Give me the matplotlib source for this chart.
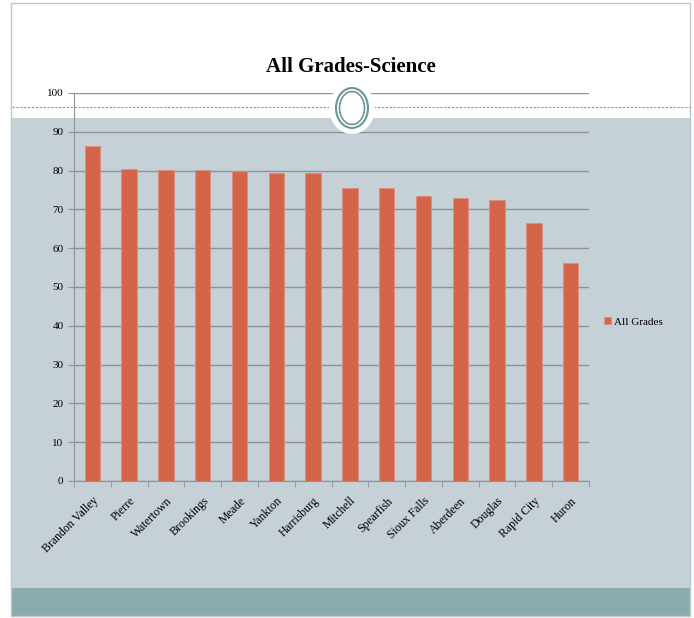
import matplotlib.pyplot as plt
from matplotlib.patches import Rectangle, Ellipse
from matplotlib.lines import Line2D

schools = ["Brandon Valley", "Pierre", "Watertown", "Brookings", "Meade", "Yankton",
           "Harrisburg", "Mitchell", "Spearfish", "Sioux Falls", "Aberdeen", "Douglas",
           "Rapid City", "Huron"]
all_grades = [86.4, 80.3, 80.2, 80.1, 79.9, 79.5, 79.4, 75.6, 75.5, 73.5, 72.9, 72.5, 66.6, 56.1]

W, H = 694, 618
plt.rcParams['font.family'] = ['Liberation Serif', 'DejaVu Serif']

fig = plt.figure(figsize=(W / 100, H / 100), dpi=100)
fig.patch.set_facecolor('white')

def fx(px):
    return px / W

def fy(py):
    return 1 - py / H

# slide background pieces
fig.add_artist(Rectangle((fx(12), fy(588)), fx(678), fy(118) - fy(588),
                         transform=fig.transFigure, facecolor='#C5D1D6', edgecolor='none', zorder=0))
fig.add_artist(Rectangle((fx(12), fy(616)), fx(678), fy(588) - fy(616),
                         transform=fig.transFigure, facecolor='#8AACAC', edgecolor='none', zorder=0))
fig.add_artist(Rectangle((fx(11), fy(616)), fx(679), fy(3) - fy(616),
                         transform=fig.transFigure, facecolor='none', edgecolor='#B8C8CC', lw=1, zorder=0))
fig.add_artist(Line2D([fx(12), fx(690)], [fy(107), fy(107)], transform=fig.transFigure,
                      color='#8A9498', lw=0.8, ls=(0, (2, 1.5)), zorder=0))

# chart
ax = fig.add_axes([fx(74), fy(481), fx(589) - fx(74), fy(93) - fy(481)])
ax.set_facecolor('none')
x = range(len(schools))
ax.bar(x, all_grades, width=0.42, color='#D4654A', edgecolor='#DE8E7C', linewidth=0.6,
       label='All Grades', zorder=3)
ax.set_xlim(-0.5, len(schools) - 0.5)
ax.set_ylim(0, 100)
ax.set_yticks(range(0, 101, 10))
ax.yaxis.grid(True, color='#8C9296', lw=1)
ax.set_axisbelow(True)
for s in ['top', 'right']:
    ax.spines[s].set_visible(False)
ax.spines['left'].set_color('#8C9296')
ax.spines['bottom'].set_color('#8C9296')
ax.set_xticks([i - 0.5 for i in range(len(schools) + 1)], minor=True)
ax.set_xticks(list(x))
ax.set_xticklabels(schools, rotation=45, ha='right', rotation_mode='anchor', fontsize=8.5)
ax.tick_params(axis='x', which='major', length=0, pad=10)
ax.tick_params(axis='x', which='minor', length=4, color='#8C9296')
ax.tick_params(axis='y', length=4, color='#8C9296', labelsize=8)

# ornament over the top of the chart
fig.add_artist(Ellipse((fx(352), fy(108)), fx(46), fy(0) - fy(52), transform=fig.transFigure,
                       facecolor='white', edgecolor='none', zorder=5))
fig.add_artist(Ellipse((fx(352), fy(108)), fx(32), fy(0) - fy(40), transform=fig.transFigure,
                       facecolor='white', edgecolor='#6E9696', lw=1.5, zorder=6))
fig.add_artist(Ellipse((fx(352), fy(108)), fx(25), fy(0) - fy(33), transform=fig.transFigure,
                       facecolor='white', edgecolor='#6E9696', lw=1.2, zorder=6))

fig.text(fx(351), fy(67), 'All Grades-Science', ha='center', va='center',
         fontsize=15, fontweight='bold')

ax.legend(loc='center left', bbox_to_anchor=((fx(600) - fx(74)) / (fx(589) - fx(74)), 0.41),
          frameon=False, fontsize=8, handlelength=0.6, handleheight=0.6, handletextpad=0.3,
          borderaxespad=0)

fig.savefig('out.png', dpi=100)
